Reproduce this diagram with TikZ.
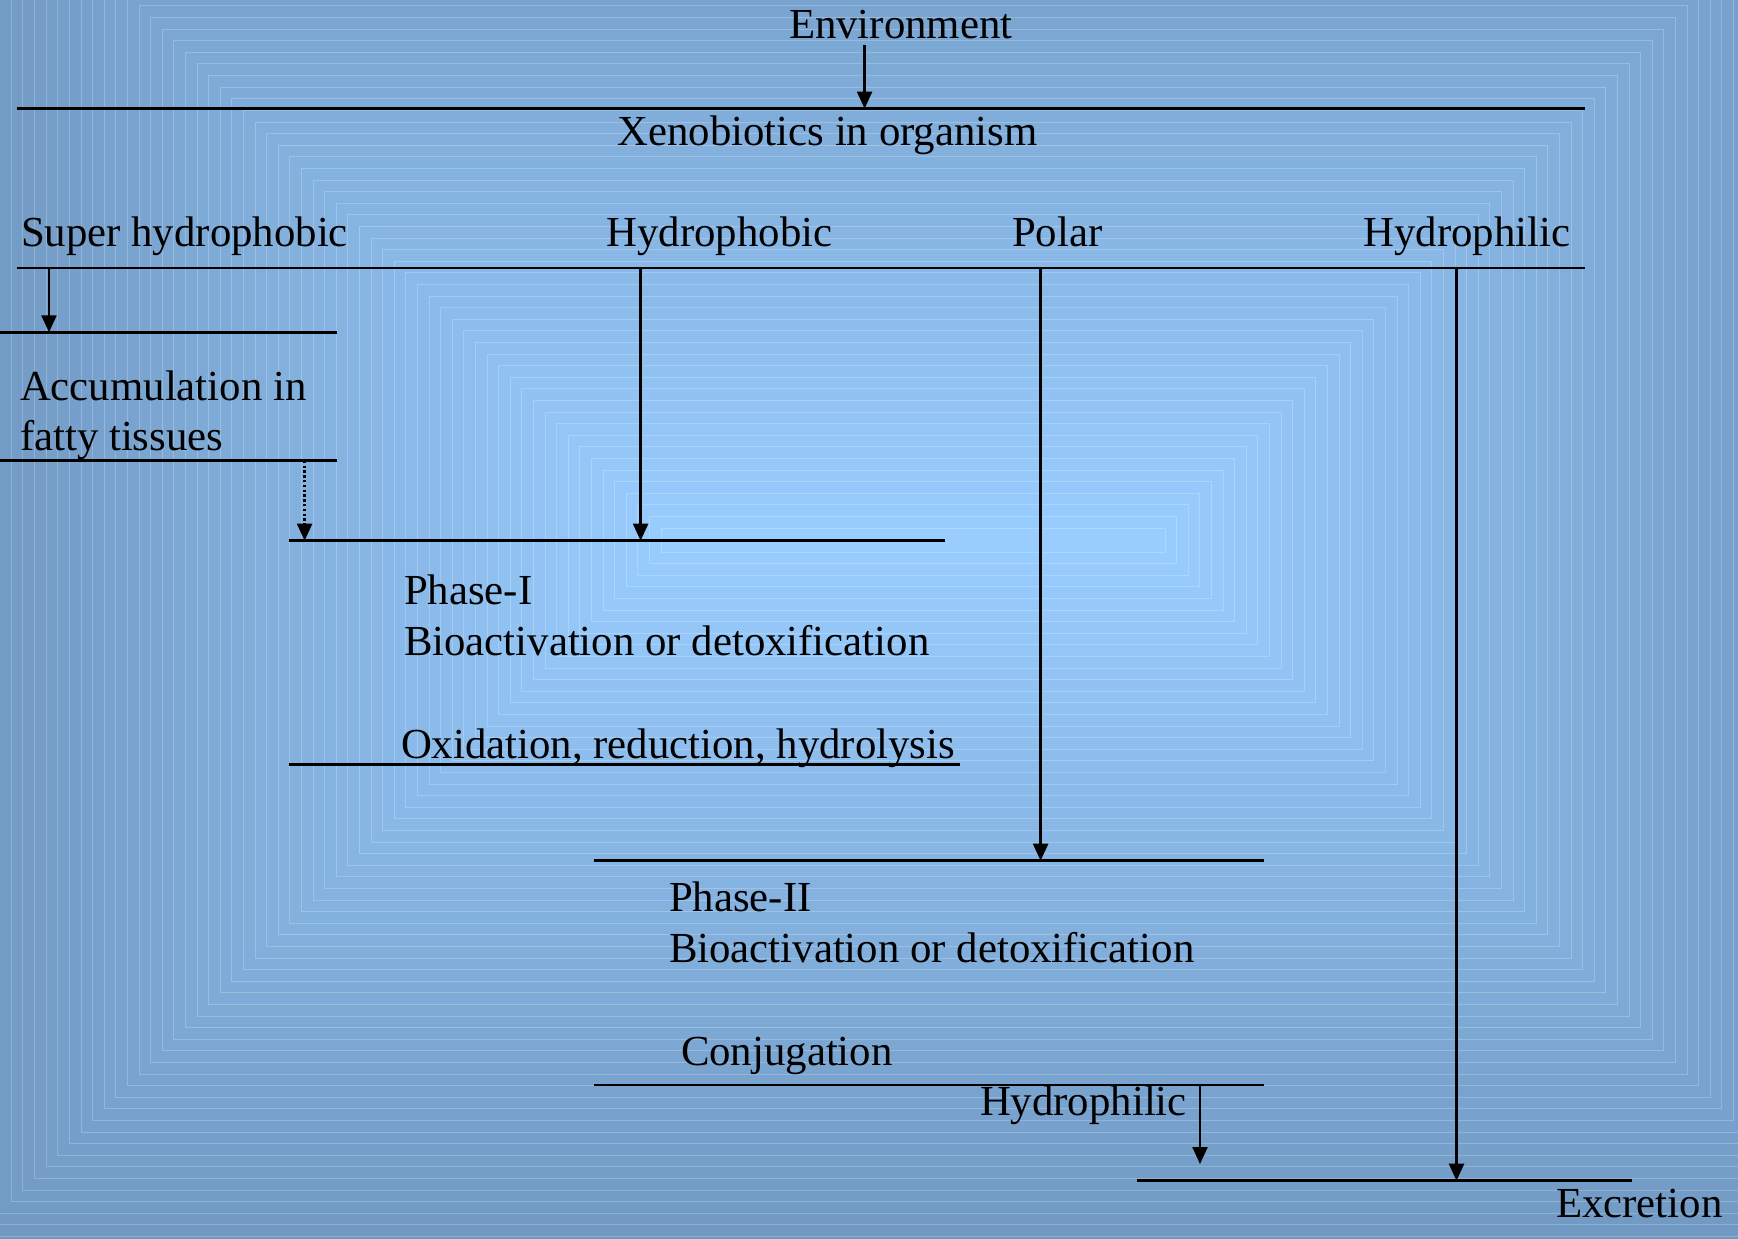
\documentclass[tikz,border=0pt]{standalone}
\usepackage{fontspec}
\setmainfont{Liberation Serif}
\usetikzlibrary{arrows.meta}
\definecolor{edgeblue}{RGB}{112,152,194}
\definecolor{centerblue}{RGB}{153,205,255}
\tikzset{
  lbl/.style={anchor=base west,inner sep=0pt,outer sep=0pt,font=\fontsize{42.8}{51}\selectfont},
  rule/.style={line width=2.6pt},
  flow/.style={line width=2.3pt,-{Triangle[width=15pt,length=17pt]}},
  dflow/.style={flow,dash pattern=on 2.4pt off 2.4pt},
}
\begin{document}
\begin{tikzpicture}[x=1pt,y=-1pt]
\useasboundingbox (0,0) rectangle (1738,1239);
% background: rectangular gradient from center
\fill[edgeblue] (0,0) rectangle (1738,1239);
\foreach \k in {62,61,...,0}{
  \pgfmathsetmacro\hh{11.6*\k+12}
  \pgfmathsetmacro\hw{\hh+240}
  \pgfmathsetmacro\p{min(100,100*\k/60)}
  \fill[edgeblue!\p!centerblue] (913-\hw,540-\hh) rectangle (913+\hw,540+\hh);
  \draw[white,opacity=0.22,line width=1pt] (913-\hw,540-\hh) rectangle (913+\hw,540+\hh);
}
% texts
\node[lbl] (env) at (789,39) {Environment};
\node[lbl] (xeno) at (617.5,145) {Xenobiotics in organism};
\node[lbl] (shyd) at (21,246.5) {Super hydrophobic};
\node[lbl] (hydrophob) at (606.5,246.5) {Hydrophobic};
\node[lbl] (polar) at (1012,246.5) {Polar};
\node[lbl] (hydrophil) at (1363.5,246.5) {Hydrophilic};
\node[lbl] (acc1) at (20,400) {Accumulation in};
\node[lbl] (acc2) at (20,450) {fatty tissues};
\node[lbl] (ph1) at (404,604) {Phase-I};
\node[lbl] (bio1) at (404,655) {Bioactivation or detoxification};
\node[lbl] (oxid) at (401,758) {Oxidation, reduction, hydrolysis};
\node[lbl] (ph2) at (669,911) {Phase-II};
\node[lbl] (bio2) at (669,962) {Bioactivation or detoxification};
\node[lbl] (conj) at (681,1065) {Conjugation};
\node[lbl] (hydrophil2) at (980,1115) {Hydrophilic};
\node[lbl] (excr) at (1556,1217) {Excretion};
% horizontal rules
\coordinate (r1a) at (16.6,108.6);  \coordinate (r1b) at (1585,108.6);
\coordinate (r2a) at (17,268);      \coordinate (r2b) at (1585,268);
\coordinate (r3a) at (0,332.3);     \coordinate (r3b) at (337,332.3);
\coordinate (r4a) at (0,460.7);     \coordinate (r4b) at (337,460.7);
\coordinate (r5a) at (288.6,540.7); \coordinate (r5b) at (944.5,540.7);
\coordinate (r6a) at (288.6,764.3); \coordinate (r6b) at (960,764.3);
\coordinate (r7a) at (593.7,860.7); \coordinate (r7b) at (1264,860.7);
\coordinate (r8a) at (593.7,1085);  \coordinate (r8b) at (1264,1085);
\coordinate (r9a) at (1137,1180.7); \coordinate (r9b) at (1632,1180.7);
\foreach \r in {1,...,9}{\draw[rule] (r\r a) -- (r\r b);}
% arrows
\coordinate (a1s) at (864.6,45);   \coordinate (a1e) at (864.6,108.6);
\coordinate (a2s) at (49,268);     \coordinate (a2e) at (49,332.3);
\coordinate (a3s) at (640.6,268);  \coordinate (a3e) at (640.6,540.7);
\coordinate (a4s) at (1040.6,268); \coordinate (a4e) at (1040.6,860.7);
\coordinate (a5s) at (1456.5,268); \coordinate (a5e) at (1456.5,1180.7);
\coordinate (a6s) at (304.6,460.7); \coordinate (a6e) at (304.6,540.7);
\coordinate (a7s) at (1200,1085);  \coordinate (a7e) at (1200,1164);
\draw[flow] (a1s) -- (a1e);
\draw[flow] (a2s) -- (a2e);
\draw[flow] (a3s) -- (a3e);
\draw[flow] (a4s) -- (a4e);
\draw[flow] (a5s) -- (a5e);
\draw[dflow] (a6s) -- (a6e);
\draw[flow] (a7s) -- (a7e);
\end{tikzpicture}
\end{document}
